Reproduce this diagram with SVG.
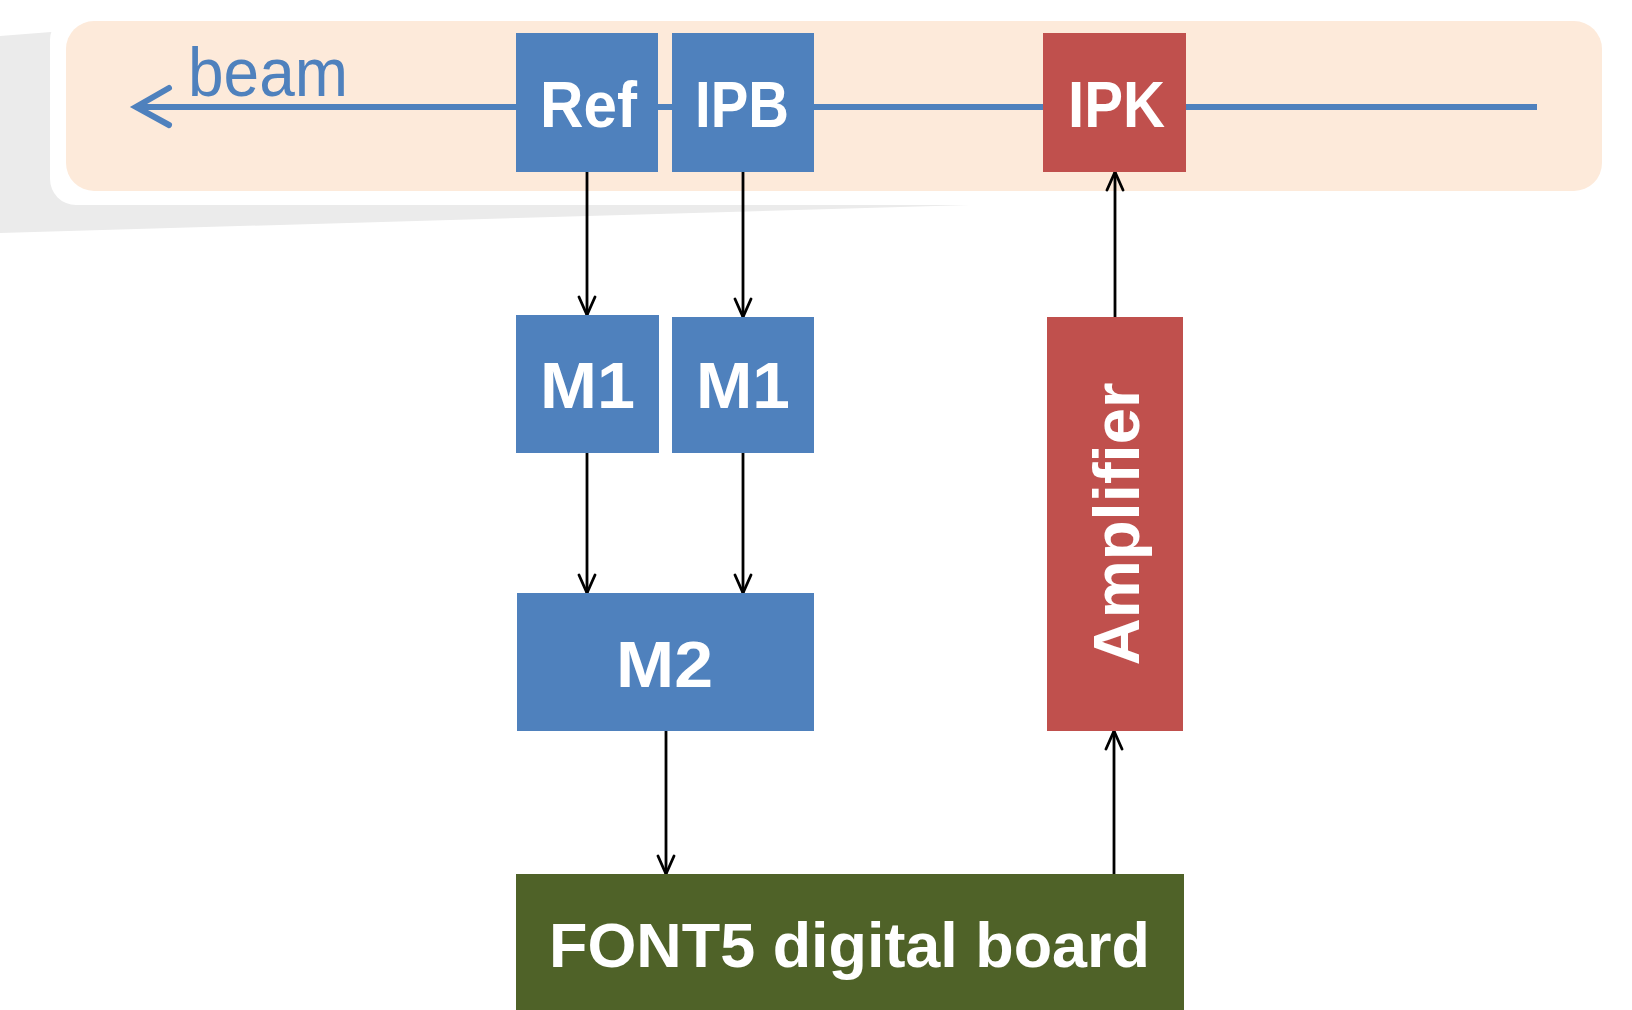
<svg xmlns="http://www.w3.org/2000/svg" width="1632" height="1010" viewBox="0 0 1632 1010">
  <style>
    .lbl { font-family: "Liberation Sans", Arial, sans-serif; font-weight: bold; fill: #ffffff; font-size: 65px; }
    .blue { fill: #4F81BD; }
    .red { fill: #C0504D; }
    .green { fill: #4F6228; }
    .conn { stroke: #000000; stroke-width: 2.8; fill: none; marker-end: url(#arr); }
  </style>
  <defs>
    <marker id="arr" markerUnits="userSpaceOnUse" markerWidth="24" markerHeight="24" viewBox="-22 -12 24 24" refX="0" refY="0" orient="auto">
      <path d="M-18,-8 L0,0 L-18,8" fill="none" stroke="#000000" stroke-width="2.8" stroke-linecap="round" stroke-linejoin="miter"/>
    </marker>
  </defs>
  <rect width="1632" height="1010" fill="#ffffff"/>

  <g id="background">
    <polygon points="0,36 64,31 970,205 0,233" fill="#EBEBEB"/>
    <rect x="50" y="14" width="1560" height="191" rx="26" ry="26" fill="#ffffff"/>
    <rect x="66" y="21" width="1536" height="170" rx="28" ry="28" fill="#FDEADA"/>
  </g>

  <g id="beam">
    <line x1="138" y1="107" x2="1537" y2="107" stroke="#4F81BD" stroke-width="6"/>
    <polyline points="169,88 136,107 169,125" fill="none" stroke="#4F81BD" stroke-width="6" stroke-linecap="round" stroke-linejoin="miter"/>
    <text x="188" y="96" font-family="Liberation Sans, Arial, sans-serif" font-size="68" fill="#4F81BD" textLength="160" lengthAdjust="spacingAndGlyphs">beam</text>
  </g>

  <g id="connectors">
    <line class="conn" x1="587" y1="172" x2="587" y2="315"/>
    <line class="conn" x1="743" y1="172" x2="743" y2="317"/>
    <line class="conn" x1="587" y1="453" x2="587" y2="593"/>
    <line class="conn" x1="743" y1="453" x2="743" y2="593"/>
    <line class="conn" x1="666" y1="731" x2="666" y2="874"/>
    <line class="conn" x1="1114" y1="874" x2="1114" y2="731"/>
    <line class="conn" x1="1115" y1="317" x2="1115" y2="172"/>
  </g>

  <g id="node-ref">
    <rect class="blue" x="516" y="33" width="142" height="139"/>
    <text class="lbl" x="540" y="127" textLength="97" lengthAdjust="spacingAndGlyphs">Ref</text>
  </g>
  <g id="node-ipb">
    <rect class="blue" x="672" y="33" width="142" height="139"/>
    <text class="lbl" x="695" y="127" textLength="94" lengthAdjust="spacingAndGlyphs">IPB</text>
  </g>
  <g id="node-ipk">
    <rect class="red" x="1043" y="33" width="143" height="139"/>
    <text class="lbl" x="1068" y="127" textLength="97" lengthAdjust="spacingAndGlyphs">IPK</text>
  </g>
  <g id="node-m1-left">
    <rect class="blue" x="516" y="315" width="143" height="138"/>
    <text class="lbl" x="540" y="408" textLength="95" lengthAdjust="spacingAndGlyphs">M1</text>
  </g>
  <g id="node-m1-right">
    <rect class="blue" x="672" y="317" width="142" height="136"/>
    <text class="lbl" x="696" y="408" textLength="94" lengthAdjust="spacingAndGlyphs">M1</text>
  </g>
  <g id="node-m2">
    <rect class="blue" x="517" y="593" width="297" height="138"/>
    <text class="lbl" x="616" y="687" textLength="97" lengthAdjust="spacingAndGlyphs">M2</text>
  </g>
  <g id="node-amplifier">
    <rect class="red" x="1047" y="317" width="136" height="414"/>
    <text class="lbl" transform="translate(1139,524) rotate(-90)" x="-141.5" y="0" textLength="283" lengthAdjust="spacingAndGlyphs">Amplifier</text>
  </g>
  <g id="node-font5">
    <rect class="green" x="516" y="874" width="668" height="140"/>
    <text class="lbl" x="549" y="967" style="font-size:63px" textLength="601" lengthAdjust="spacingAndGlyphs">FONT5 digital board</text>
  </g>
</svg>
